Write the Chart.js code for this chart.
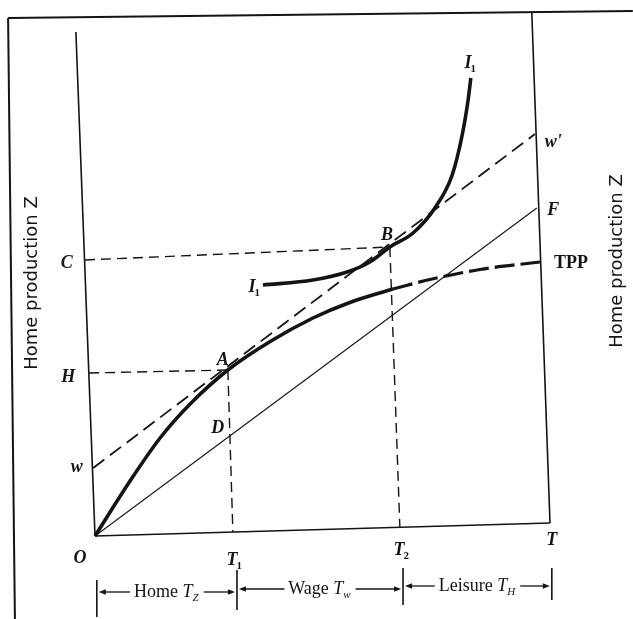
<!DOCTYPE html>
<html>
<head>
<meta charset="utf-8">
<script src="https://cdn.jsdelivr.net/npm/chart.js@4"></script>
<style>
  body { margin: 0; background: #fff; }
  #wrap { width: 633px; height: 619px; }
</style>
</head>
<body>
<div id="wrap"><canvas id="homeProdChart" width="633" height="619"></canvas></div>
<script>
// Diagram values, in diagram units (x = time, T = 100; y = home production Z)
const leftAxis   = [[0, 0], [-4.2, 100.8]];
const bottomAxis = [[0, 0], [100, 2.6]];
const rightAxis  = [[100, 2.6], [96.0, 104.6]];
const frameTop   = [[-19.1, 103.6], [118.2, 105.0]];
const frameLeft  = [[-19.1, 103.6], [-17.6, -16.6]];

// total product of home production (TPP), solid part then dashed part
const tppSolid  = [[0, 0], [7.7, 11.0], [14.3, 19.6], [20.9, 26.4], [29.2, 33.2], [38.5, 38.9], [47.9, 43.6], [56.0, 46.7], [65.5, 49.4]];
const tppDashed = [[65.5, 49.4], [73.6, 51.3], [84.6, 53.3], [97.8, 54.8]];

// indifference curve I1
const indiff = [[36.9, 50.2], [47.9, 51.2], [55.4, 52.8], [60.4, 54.8], [64.8, 57.8], [69.9, 60.6], [74.7, 65.6], [78.5, 72.2], [80.7, 80.2], [82.0, 87.2], [82.6, 91.6]];

// wage line w-w' and line O-F
const wageLine = [[-0.4, 13.6], [96.7, 80.4]];
const ofLine   = [[0, 0], [97.1, 65.6]];

// guide lines
const cGuide  = [[-2.2, 55.2], [64.8, 57.8]];
const hGuide  = [[-1.3, 32.6], [29.2, 33.2]];
const t1Guide = [[29.2, 33.2], [30.3, 0.8]];
const t2Guide = [[64.8, 57.8], [67.0, 1.8]];

// time budget bar along the bottom
const spanBounds = [0.4, 31.2, 67.7, 100.4];
const tickTop    = [-8.8, -6.8, -6.4, -6.4];
const tickBottom = [-16.2, -14.8, -13.8, -12.8];
const spanNames  = ['Home', 'Wage', 'Leisure'];
const spanSubs   = ['Z', 'w', 'H'];
const spanLevel  = [-11.2, -10.6, -10.0];

// point labels
const pointLabels = [
  { t: 'O', x: -3.3, y: -4.4 },
  { t: 'C', x: -6.2, y: 54.6 },
  { t: 'H', x: -5.9, y: 31.8 },
  { t: 'w', x: -4.0, y: 13.8 },
  { t: 'A', x: 28.1, y: 35.2 },
  { t: 'B', x: 64.2, y: 60.2 },
  { t: 'D', x: 27.0, y: 21.6 },
  { t: 'F', x: 100.7, y: 65.2 },
  { t: "w'", x: 100.7, y: 78.8 },
  { t: 'I', sub: '1', x: 34.5, y: 49.8 },
  { t: 'I', sub: '1', x: 82.0, y: 94.6 },
  { t: 'T', sub: '1', x: 30.1, y: -4.8 },
  { t: 'T', sub: '2', x: 66.8, y: -2.8 },
  { t: 'T', x: 100.4, y: -0.8 }
];
const tppLabel  = { t: 'TPP', x: 104.6, y: 54.6 };
const axisTitle = 'Home production Z';
const axisTitlePos = [{ x: -13.8, y: 50.6 }, { x: 114.7, y: 55.0 }];

const ink = '#141414';
const pts = arr => arr.map(p => ({ x: p[0], y: p[1] }));

function line(data, width, dash, extra) {
  return Object.assign({
    data: pts(data),
    borderColor: ink,
    borderWidth: width,
    borderDash: dash || [],
    pointRadius: 0,
    fill: false,
    tension: 0
  }, extra || {});
}

const datasets = [
  line(frameTop, 2),
  line(frameLeft, 2),
  line(leftAxis, 1.6),
  line(bottomAxis, 1.6),
  line(rightAxis, 1.6),
  line(cGuide, 1.4, [10, 6]),
  line(hGuide, 1.4, [10, 6]),
  line(t1Guide, 1.4, [10, 6]),
  line(t2Guide, 1.4, [10, 6]),
  line(ofLine, 1.1),
  line(wageLine, 1.8, [14, 7]),
  line(tppSolid, 3.6, [], { cubicInterpolationMode: 'monotone' }),
  line(tppDashed, 3.2, [20, 6], { cubicInterpolationMode: 'monotone' }),
  line(indiff, 3.6, [], { cubicInterpolationMode: 'monotone' })
];
spanBounds.forEach((b, i) => {
  datasets.push(line([[b, tickTop[i]], [b, tickBottom[i]]], 1.6));
});

function drawLabel(ctx, x, y, lab) {
  ctx.font = 'italic bold 18px "Liberation Serif"';
  ctx.textAlign = 'center';
  ctx.textBaseline = 'middle';
  ctx.fillText(lab.t, x, y);
  if (lab.sub) {
    const w = ctx.measureText(lab.t).width;
    ctx.font = 'bold 11px "Liberation Serif"';
    ctx.textAlign = 'left';
    ctx.fillText(lab.sub, x + w / 2 - 1, y + 6);
  }
}

function arrow(ctx, from, to, y) {
  const dir = Math.sign(to - from);
  ctx.beginPath();
  ctx.moveTo(from, y);
  ctx.lineTo(to - dir * 5, y);
  ctx.stroke();
  ctx.beginPath();
  ctx.moveTo(to, y);
  ctx.lineTo(to - dir * 7, y - 2.8);
  ctx.lineTo(to - dir * 7, y + 2.8);
  ctx.closePath();
  ctx.fill();
}

const diagramText = {
  id: 'diagramText',
  afterDatasetsDraw(chart) {
    const { ctx, scales: { x, y } } = chart;
    ctx.save();
    ctx.fillStyle = ink;
    ctx.strokeStyle = ink;

    pointLabels.forEach(lab => drawLabel(ctx, x.getPixelForValue(lab.x), y.getPixelForValue(lab.y), lab));

    ctx.font = 'bold 18px "Liberation Serif"';
    ctx.textAlign = 'center';
    ctx.textBaseline = 'middle';
    ctx.fillText(tppLabel.t, x.getPixelForValue(tppLabel.x), y.getPixelForValue(tppLabel.y));

    ctx.font = '18px "DejaVu Sans"';
    axisTitlePos.forEach(p => {
      ctx.save();
      ctx.translate(x.getPixelForValue(p.x), y.getPixelForValue(p.y));
      ctx.rotate(-Math.PI / 2);
      ctx.fillText(axisTitle, 0, 0);
      ctx.restore();
    });

    // time budget: Home T_Z, Wage T_w, Leisure T_H with arrows to the ticks
    ctx.lineWidth = 1.3;
    spanNames.forEach((name, i) => {
      const left = x.getPixelForValue(spanBounds[i]);
      const right = x.getPixelForValue(spanBounds[i + 1]);
      const py = y.getPixelForValue(spanLevel[i]);
      ctx.font = '18px "Liberation Serif"';
      const wName = ctx.measureText(name + ' ').width;
      ctx.font = 'italic 18px "Liberation Serif"';
      const wT = ctx.measureText('T').width;
      ctx.font = 'italic 11px "Liberation Serif"';
      const wSub = ctx.measureText(spanSubs[i]).width;
      const total = wName + wT + wSub + 1;
      const start = (left + right) / 2 - total / 2;
      ctx.textAlign = 'left';
      ctx.textBaseline = 'middle';
      ctx.font = '18px "Liberation Serif"';
      ctx.fillText(name, start, py);
      ctx.font = 'italic 18px "Liberation Serif"';
      ctx.fillText('T', start + wName, py);
      ctx.font = 'italic 11px "Liberation Serif"';
      ctx.fillText(spanSubs[i], start + wName + wT, py + 6);
      arrow(ctx, start - 4, left + 2, py);
      arrow(ctx, start + total + 4, right - 2, py);
    });
    ctx.restore();
  }
};

new Chart(document.getElementById('homeProdChart'), {
  type: 'line',
  data: { datasets: datasets },
  options: {
    responsive: false,
    animation: false,
    devicePixelRatio: 1,
    layout: { padding: 0 },
    scales: {
      x: { type: 'linear', min: -20.88, max: 118.24, display: false },
      y: { type: 'linear', min: -16.6, max: 107.2, display: false }
    },
    plugins: {
      legend: { display: false },
      tooltip: { enabled: false }
    }
  },
  plugins: [diagramText]
});
</script>
</body>
</html>
